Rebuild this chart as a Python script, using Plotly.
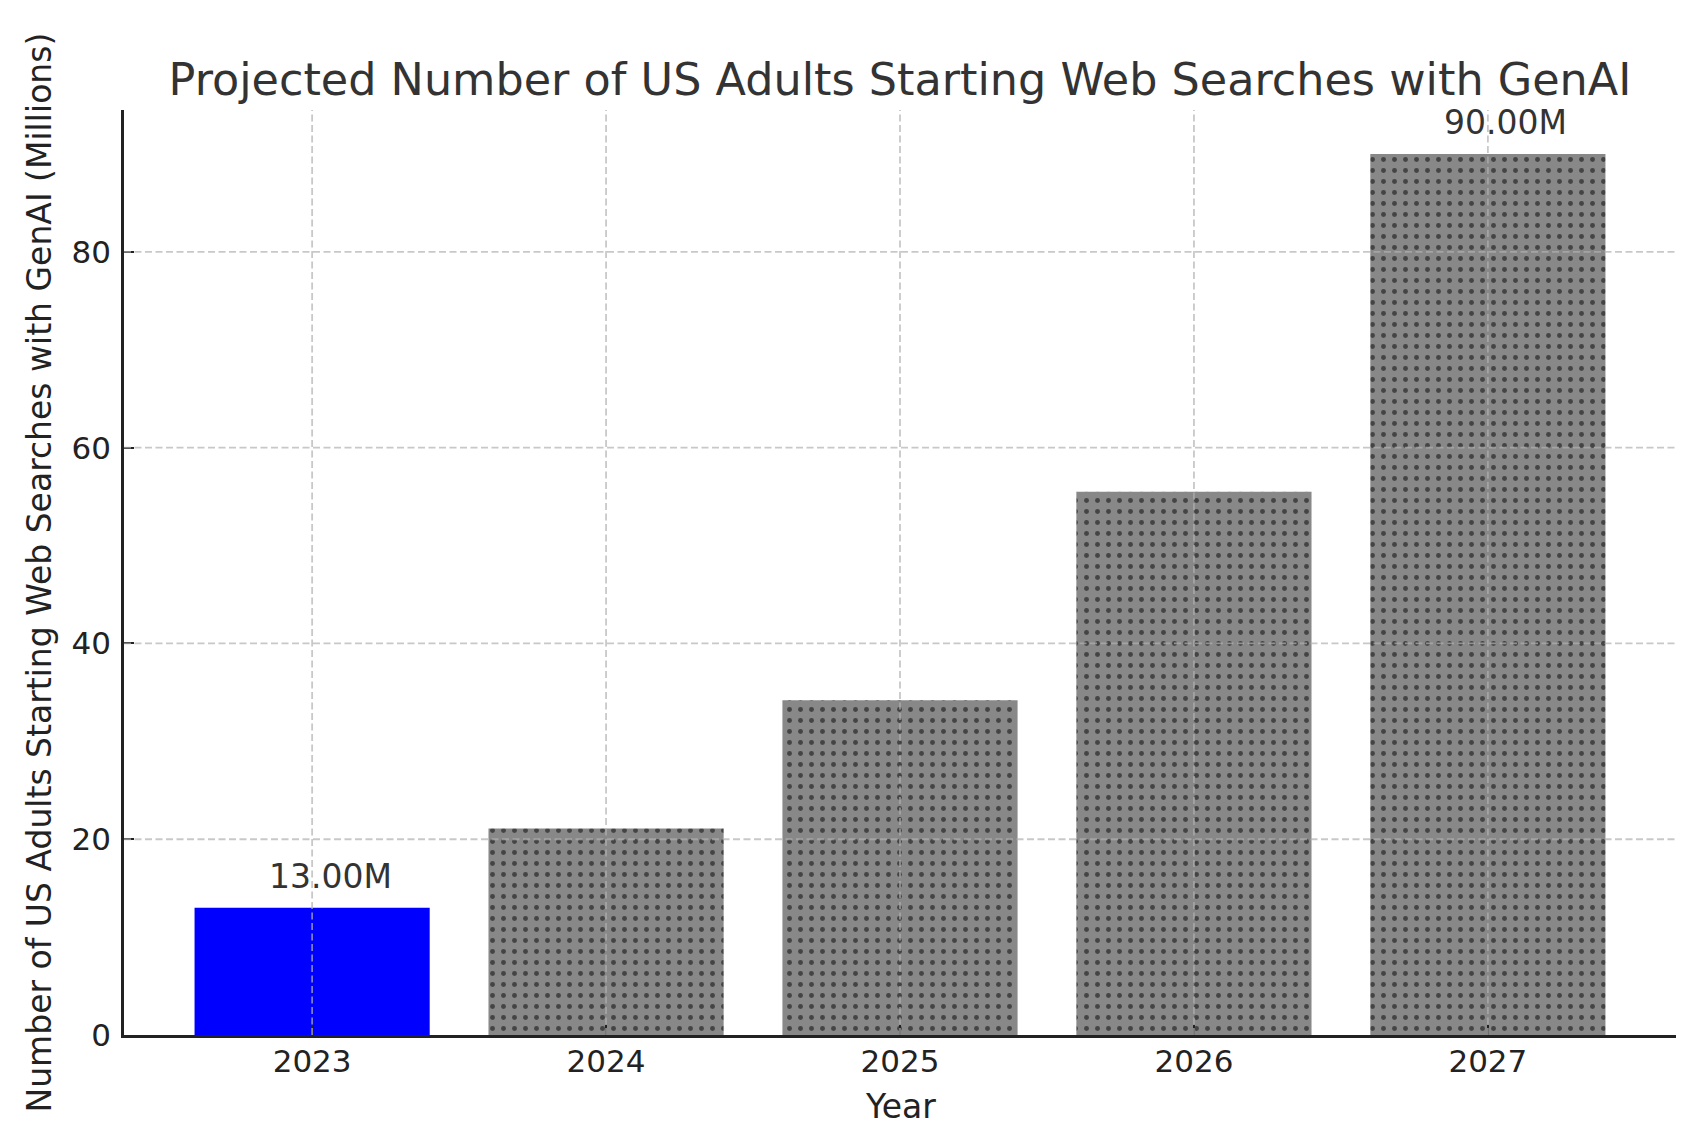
import plotly.graph_objects as go

# ---- data ----
years = ["2023", "2024", "2025", "2026", "2027"]
values = [13.0, 21.1, 34.2, 55.5, 90.0]
bar_colors = ["#0000ff", "#888888", "#888888", "#888888", "#888888"]
bar_patterns = ["", ".", ".", ".", "."]
labeled_years = ["2023", "2027"]
y_ticks = [0, 20, 40, 60, 80]

title_text = "Projected Number of US Adults Starting Web Searches with GenAI"
x_title = "Year"
y_title = "Number of US Adults Starting Web Searches with GenAI (Millions)"

FONT = "DejaVu Sans"
positions = list(range(len(years)))

fig = go.Figure()
fig.add_trace(go.Bar(
    x=positions,
    y=values,
    width=0.8,
    marker=dict(
        color=bar_colors,
        line=dict(width=0),
        pattern=dict(shape=bar_patterns, fgcolor="#000000", fgopacity=1,
                     size=11, solidity=0.16, fillmode="overlay"),
    ),
    hovertext=years,
    hoverinfo="text+y",
))

annotations = []
for i, (yr, v) in enumerate(zip(years, values)):
    if yr in labeled_years:
        annotations.append(dict(
            x=i, y=v, xref="x", yref="y", text=f"{v:.2f}M", showarrow=False,
            xanchor="center", yanchor="bottom", xshift=18, yshift=10,
            font=dict(family=FONT, size=33, color="#333333"),
        ))

# axis titles
annotations.append(dict(
    x=0.5, y=0, xref="paper", yref="paper", text=x_title, showarrow=False,
    xanchor="center", yanchor="top", yshift=-50,
    font=dict(family=FONT, size=33, color="#222222"),
))
annotations.append(dict(
    x=0, y=0.5, xref="paper", yref="paper", text=y_title, showarrow=False,
    xanchor="center", yanchor="middle", xshift=-85, textangle=-90,
    font=dict(family=FONT, size=33, color="#222222"),
))

# dashed grid drawn above the bars (as in the source)
grid_style = dict(color="rgba(176,176,176,0.7)", width=1.8, dash="7px,3.5px")
shapes = []
for t in y_ticks[1:]:
    shapes.append(dict(type="line", xref="paper", yref="y", x0=0, x1=1, y0=t, y1=t,
                       line=grid_style, layer="above"))
for p in positions:
    shapes.append(dict(type="line", xref="x", yref="paper", x0=p, x1=p, y0=0, y1=1,
                       line=grid_style, layer="above"))

fig.update_layout(
    width=1686, height=1134,
    margin=dict(l=116, r=18, t=102, b=107, autoexpand=False),
    paper_bgcolor="white", plot_bgcolor="white",
    showlegend=False,
    title=dict(text=title_text, x=0.5, xref="paper", xanchor="center",
               y=1 - 71 / 1134, yref="container", yanchor="middle",
               font=dict(family=FONT, size=44.5, color="#333333")),
    font=dict(family=FONT),
    annotations=annotations,
    shapes=shapes,
)
fig.update_xaxes(
    range=[-0.64, 4.64], tickvals=positions, ticktext=years,
    showline=True, linecolor="#222222", linewidth=2.5,
    ticks="inside", ticklen=10, tickwidth=2, tickcolor="#222222",
    tickfont=dict(family=FONT, size=31, color="#222222"),
    showgrid=False, zeroline=False, layer="above traces",
    ticklabelstandoff=-3,
)
fig.update_yaxes(
    range=[0, 94.5], tickvals=y_ticks, ticktext=[str(t) for t in y_ticks],
    showline=True, linecolor="#222222", linewidth=2.5,
    ticks="inside", ticklen=10, tickwidth=2, tickcolor="#222222",
    tickfont=dict(family=FONT, size=31, color="#222222"),
    showgrid=False, zeroline=False, layer="above traces",
    ticklabelstandoff=4,
)

fig.write_html("out.html")
